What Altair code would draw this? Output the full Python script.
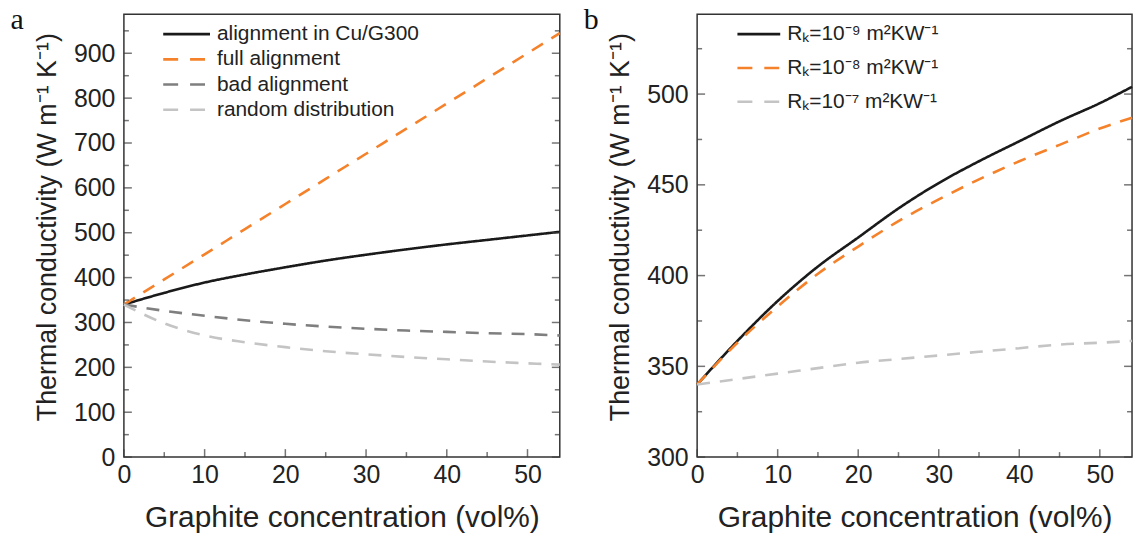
import altair as alt
import pandas as pd

FONT = "Liberation Sans"

# ---------------- data ----------------
x_vals = [0, 5, 10, 15, 20, 25, 30, 35, 40, 45, 50, 54]

a_names = ["alignment in Cu/G300", "full alignment", "bad alignment", "random distribution"]
a_cu_g300 = [340, 366, 389, 407, 423, 438, 451, 463, 474, 484, 494, 502]
a_full = [340, 396, 452, 508, 564, 620, 676, 732, 788, 844, 900, 945]
a_bad = [340, 326, 315, 305, 297, 291, 286, 282, 279, 276, 274, 271]
a_random = [340, 298, 271, 256, 245, 236, 229, 223, 218, 213, 209, 206]

b_names = ["R\u2096=10\u207b\u2079 m\u00b2KW\u207b\u00b9",
           "R\u2096=10\u207b\u2078 m\u00b2KW\u207b\u00b9",
           "R\u2096=10\u207b\u2077 m\u00b2KW\u207b\u00b9"]
b_rk9 = [340, 364, 386, 405, 421, 437, 451, 463, 474, 485, 495, 504]
b_rk8 = [340, 363, 383, 401, 416, 430, 442, 453, 463, 472, 481, 487]
b_rk7 = [340, 343, 346, 349, 352, 354, 356, 358, 360, 362, 363, 364]

x_major = [0, 10, 20, 30, 40, 50]
x_minor = [5, 15, 25, 35, 45]
a_y_major = [0, 100, 200, 300, 400, 500, 600, 700, 800, 900]
a_y_minor = [50, 150, 250, 350, 450, 550, 650, 750, 850, 950]
b_y_major = [300, 350, 400, 450, 500]
b_y_minor = [325, 375, 425, 475, 525]

a_colors = ["#1a1a1a", "#F5822A", "#7F7F7F", "#C4C4C4"]
b_colors = ["#1a1a1a", "#F5822A", "#C4C4C4"]
SOLID = [1, 0]
DASH = [13, 10]
LEG_DASH = [15, 12]

x_title = "Graphite concentration (vol%)"
y_title = "Thermal conductivity (W m\u207b\u00b9 K\u207b\u00b9)"

H = 445
MAJ, MIN = 8, 5
TICK_COLOR = "#3a3a3a"


def make_df(names, series):
    rows = []
    for n, ys in zip(names, series):
        for xv, yv in zip(x_vals, ys):
            rows.append({"series": n, "x": xv, "y": yv})
    return pd.DataFrame(rows)


def panel(names, series, colors, dashes, leg_dashes, ydom, ymaj, ymin, leg_range, leg_x0, leg_x1, leg_tx,
          letter, width):
    df = make_df(names, series)
    leg_df = pd.DataFrame({"series": names, "row": list(range(len(names)))})
    xs = alt.Scale(domain=[0, 54], nice=False, zero=False)
    ys = alt.Scale(domain=ydom, nice=False, zero=False)
    col = alt.Color("series:N", scale=alt.Scale(domain=names, range=colors), legend=None)
    dsh = alt.StrokeDash("series:N", scale=alt.Scale(domain=names, range=dashes), legend=None)
    leg_dsh = alt.StrokeDash("series:N", scale=alt.Scale(domain=names, range=leg_dashes), legend=None)

    lines = alt.Chart(df).mark_line(strokeWidth=2.6, interpolate="monotone").encode(
        x=alt.X("x:Q", scale=xs,
                axis=alt.Axis(values=x_major, ticks=False, domain=False, labelPadding=6,
                              labelFlush=False, title=x_title, titlePadding=15, titleFontSize=30)),
        y=alt.Y("y:Q", scale=ys,
                axis=alt.Axis(values=ymaj, ticks=False, domain=False, labelPadding=9,
                              labelFlush=False, title=y_title, titlePadding=12, titleFontSize=27,
                              titleY=H / 2 - 9)),
        color=col, strokeDash=dsh,
    )

    # inward tick marks (major / minor), placed through the panel's own scales
    def xt(vals, size):
        return alt.Chart(pd.DataFrame({"v": vals})).mark_tick(
            color=TICK_COLOR, thickness=1.5, size=size, orient="vertical", yOffset=-size / 2
        ).encode(x=alt.X("v:Q", scale=xs, axis=None), y=alt.value(H))

    def yt(vals, size, side):
        off = size / 2 if side == "left" else -size / 2
        xpos = 0 if side == "left" else width
        return alt.Chart(pd.DataFrame({"v": vals})).mark_tick(
            color=TICK_COLOR, thickness=1.5, size=size, orient="horizontal", xOffset=off
        ).encode(y=alt.Y("v:Q", scale=ys, axis=None), x=alt.value(xpos))

    ticks = [xt(x_major, MAJ), xt(x_minor, MIN),
             yt(ymaj, MAJ, "left"), yt(ymin, MIN, "left"),
             yt(ymaj, MAJ, "right"), yt(ymin, MIN, "right")]

    ly = alt.Scale(domain=[0, len(names) - 1], range=leg_range)
    leg = alt.Chart(leg_df)
    leg_rules = leg.mark_rule(strokeWidth=2.6).encode(
        x=alt.value(leg_x0), x2=alt.value(leg_x1),
        y=alt.Y("row:Q", scale=ly, axis=None),
        color=col, strokeDash=leg_dsh,
    )
    leg_text = leg.mark_text(align="left", baseline="middle", font=FONT, fontSize=21, color="#222").encode(
        x=alt.value(leg_tx),
        y=alt.Y("row:Q", scale=ly, axis=None),
        text="series:N",
    )
    lab = alt.Chart(alt.Data(values=[{"t": letter}])).mark_text(
        align="left", baseline="alphabetic", font="Liberation Serif", fontSize=30, color="#111"
    ).encode(x=alt.value(-114), y=alt.value(15), text="t:N")

    return alt.layer(lines, *ticks, leg_rules, leg_text, lab).resolve_scale(
        y="independent", strokeDash="independent"
    ).resolve_axis(x="independent", y="independent").properties(width=width, height=H)


left = panel(a_names, [a_cu_g300, a_full, a_bad, a_random], a_colors, [SOLID, DASH, DASH, DASH],
             [SOLID, LEG_DASH, LEG_DASH, LEG_DASH],
             [0, 987], a_y_major, a_y_minor, [20, 96], 39.5, 86.5, 93.5, "a", 438)
right = panel(b_names, [b_rk9, b_rk8, b_rk7], b_colors, [SOLID, DASH, DASH],
              [SOLID, LEG_DASH, LEG_DASH],
              [300, 544], b_y_major, b_y_minor, [20, 88], 40.5, 83.5, 90.5, "b", 437)

chart = alt.hconcat(left, right, spacing=138, bounds="flush").resolve_scale(
    color="independent", strokeDash="independent"
).properties(
    padding={"left": 9.5, "top": 3, "right": 0, "bottom": 2}
).configure_axis(
    labelFont=FONT, labelFontSize=25, labelColor="#222",
    titleFont=FONT, titleFontWeight="normal", titleColor="#222",
    grid=False,
).configure_view(stroke="#333", strokeWidth=1.5)

chart.save("out.html", embed_options={"renderer": "svg", "actions": False})
